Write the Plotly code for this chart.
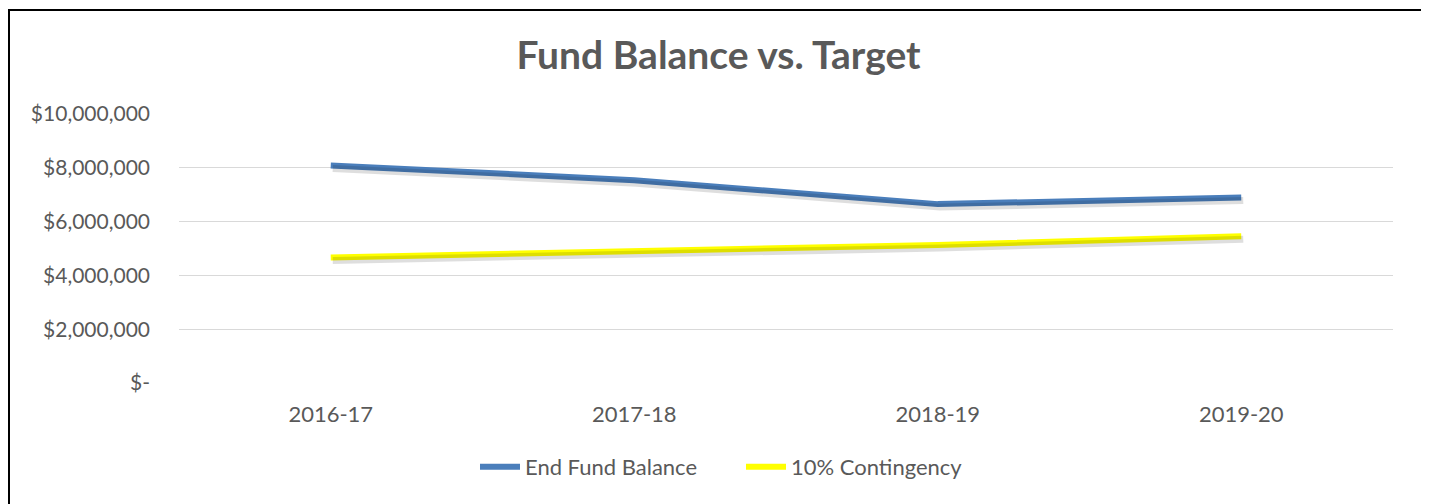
import plotly.graph_objects as go

categories = ["2016-17", "2017-18", "2018-19", "2019-20"]
end_fund_balance = [8090000, 7540000, 6650000, 6900000]
contingency = [4670000, 4920000, 5130000, 5460000]
tick_values = [0, 2000000, 4000000, 6000000, 8000000, 10000000]
tick_labels = ["$-", "$2,000,000", "$4,000,000", "$6,000,000", "$8,000,000", "$10,000,000"]

FONT = "Lato"
GRAY = "#595959"
# page body has an 8px margin, so the figure is sized to fit the window
W, H = 1421, 496
L, R, T, B = 171, 36, 106, 121

fig = go.Figure()

plot_w = W - L - R
plot_h = H - T - B
dy = 3 / (plot_h / 10000000)
dx = 2 / (plot_w / 4)

# soft shadows (same data drawn on slightly offset overlay axes)
for vals in (end_fund_balance, contingency):
    fig.add_trace(go.Scatter(x=categories, y=vals, mode="lines", xaxis="x2", yaxis="y2",
                             line=dict(color="rgba(0,0,0,0.13)", width=7),
                             showlegend=False, hoverinfo="skip"))

fig.add_trace(go.Scatter(x=categories, y=end_fund_balance, mode="lines", name="End Fund Balance",
                         line=dict(color="#4A7EBB", width=6)))
fig.add_trace(go.Scatter(x=categories, y=contingency, mode="lines", name="10% Contingency",
                         line=dict(color="#FFFF00", width=6)))

# outer frame
fig.add_shape(type="rect", xref="paper", yref="paper",
              x0=(1 - L) / plot_w, x1=(1414 - L) / plot_w,
              y0=(H - B - 520) / plot_h, y1=(H - B - 2) / plot_h,
              line=dict(color="#000000", width=2), fillcolor="rgba(0,0,0,0)", layer="below")

fig.update_layout(
    width=W, height=H,
    margin=dict(l=L, r=R, t=T, b=B),
    paper_bgcolor="white", plot_bgcolor="white",
    title=dict(text="<b>Fund Balance vs. Target</b>", x=0.5, xanchor="center",
               y=1 - 47 / H, yanchor="middle",
               font=dict(family=FONT, size=39, color=GRAY)),
    font=dict(family=FONT, size=21, color=GRAY),
    xaxis=dict(type="category", range=[-0.5, 3.5], showgrid=False, zeroline=False,
               showline=False, ticks="", ticklabelstandoff=16,
               tickfont=dict(size=22, color=GRAY)),
    xaxis2=dict(type="category", range=[-0.5 - dx, 3.5 - dx], overlaying="x",
                visible=False),
    yaxis=dict(range=[0, 10000000], tickvals=tick_values, ticktext=tick_labels,
               showgrid=True, gridcolor="#D9D9D9", gridwidth=1.3, zeroline=False,
               showline=False, ticks="", ticklabelstandoff=28,
               tickfont=dict(size=21, color=GRAY)),
    yaxis2=dict(range=[dy, 10000000 + dy], overlaying="y", visible=False),
    legend=dict(orientation="h", x=0.5 - 45 / plot_w, xanchor="center",
                y=-(459 - (H - B)) / plot_h,
                yanchor="middle", font=dict(size=22, color=GRAY), itemwidth=40,
                entrywidth=211, entrywidthmode="pixels",
                bgcolor="rgba(0,0,0,0)"),
    showlegend=True,
)

fig.write_html("out.html")
